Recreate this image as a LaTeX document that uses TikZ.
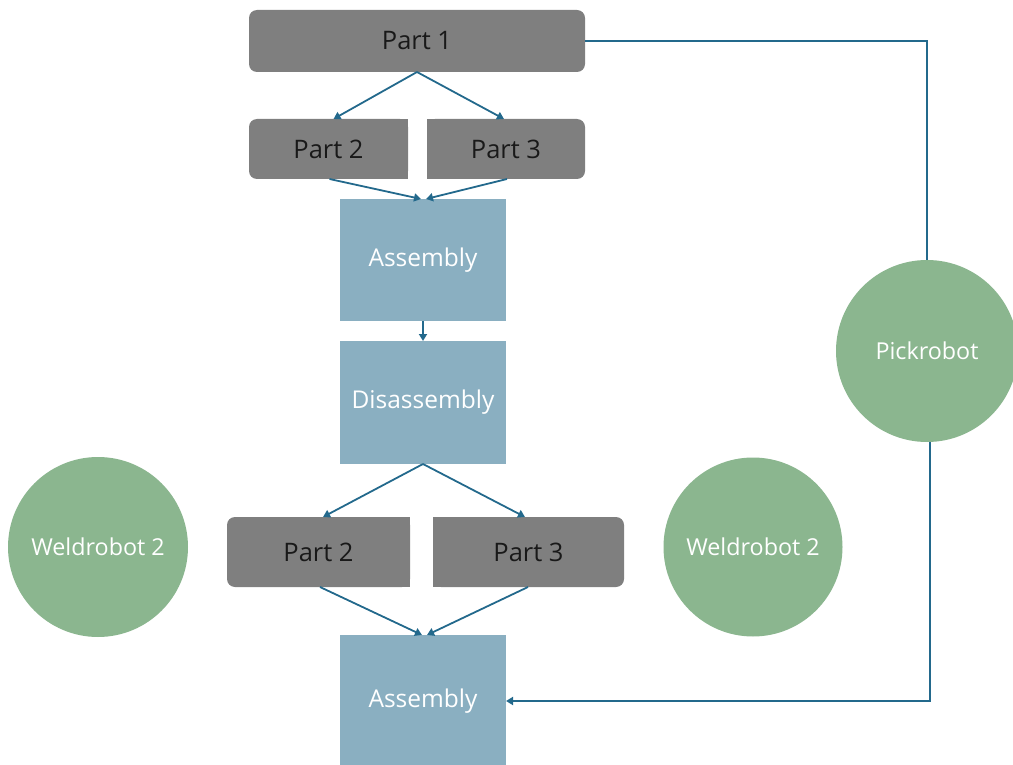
\documentclass[tikz,border=0pt]{standalone}
\usepackage{fontspec}
\setmainfont{Open Sans}
\usetikzlibrary{arrows.meta,backgrounds,calc}
\definecolor{partgray}{HTML}{7F7F7F}
\definecolor{stageblue}{HTML}{8AAFC1}
\definecolor{robotgreen}{HTML}{8BB68F}
\definecolor{flowline}{HTML}{23698C}
\tikzset{
  partlabel/.style={rectangle, inner sep=0pt, outer sep=0pt, text=black!90,
    font=\fontsize{25.5}{28}\selectfont},
  stagebox/.style={rectangle, fill=stageblue, inner sep=0pt, outer sep=0pt,
    minimum width=166pt, text=white, font=\fontsize{24.5}{28}\selectfont},
  robot/.style={circle, fill=robotgreen, inner sep=0pt, outer sep=0pt,
    text=white, font=\fontsize{23.3}{26}\selectfont},
  flow/.style={draw=flowline, line width=1.8pt,
    -{Triangle[length=7pt,width=8pt]}},
  partfill/.style={fill=partgray},
}
\begin{document}
\begin{tikzpicture}[x=1pt,y=-1pt]
\useasboundingbox (0,0) rectangle (1013,765);

% part boxes (shapes filled on the background layer)
\node[partlabel, minimum width=336pt, minimum height=62pt] (p1) at (417,41) {Part 1};
\node[partlabel, minimum width=159pt, minimum height=60pt] (p2a) at (328.5,149) {Part 2};
\node[partlabel, minimum width=158pt, minimum height=60pt] (p3a) at (506,149) {Part 3};
\node[partlabel, minimum width=183pt, minimum height=70pt] (p2b) at (318.5,552) {Part 2};
\node[partlabel, minimum width=191pt, minimum height=70pt] (p3b) at (528.5,552) {Part 3};

% process stages
\node[stagebox, minimum height=122pt] (a1) at (423,260) {Assembly};
\node[stagebox, minimum height=123pt] (dis) at (423,402.5) {Disassembly};
\node[stagebox, minimum height=132pt] (a2) at (423,701) {Assembly};

% robots
\node[robot, minimum size=180pt] (wl) at (98,547) {Weldrobot 2};
\node[robot, minimum size=179pt] (wr) at (753,547) {Weldrobot 2};
\node[robot, minimum size=182pt] (pick) at (927,351) {Pickrobot};

\begin{scope}[on background layer]
  \fill[partfill, rounded corners=8pt] (p1.south west) rectangle (p1.north east);
  % left pieces: only the outer (left) corners are rounded
  \fill[partfill, rounded corners=8pt] (p2a.south west) rectangle (p2a.north east);
  \fill[partfill] (p2a.south) rectangle (p2a.north east);
  \fill[partfill, rounded corners=8pt] (p2b.south west) rectangle (p2b.north east);
  \fill[partfill] (p2b.south) rectangle (p2b.north east);
  % right pieces: only the outer (right) corners are rounded
  \fill[partfill, rounded corners=8pt] (p3a.south west) rectangle (p3a.north east);
  \fill[partfill] (p3a.south west) rectangle (p3a.north);
  \fill[partfill, rounded corners=8pt] (p3b.south west) rectangle (p3b.north east);
  \fill[partfill] (p3b.south west) rectangle (p3b.north);
\end{scope}

% connectors
\draw[flow] (p1.south) -- ([xshift=5pt]p2a.north);
\draw[flow] (p1.south) -- ([xshift=-2pt]p3a.north);
\draw[flow] ([xshift=1pt]p2a.south) -- ([xshift=-2pt]a1.north);
\draw[flow] ([xshift=1pt]p3a.south) -- ([xshift=3pt]a1.north);
\draw[flow] (a1.south) -- (dis.north);
\draw[flow] (dis.south) -- ([xshift=4.5pt]p2b.north);
\draw[flow] (dis.south) -- ([xshift=-3.5pt]p3b.north);
\draw[flow] ([xshift=1.5pt]p2b.south) -- ([xshift=-1pt]a2.north);
\draw[flow] ([xshift=-0.5pt]p3b.south) -- ([xshift=4pt]a2.north);
\draw[flow, -] (p1.east) -| (pick.north);
\draw[flow] ([xshift=3pt]pick.south) |- (a2.east);
\end{tikzpicture}
\end{document}
